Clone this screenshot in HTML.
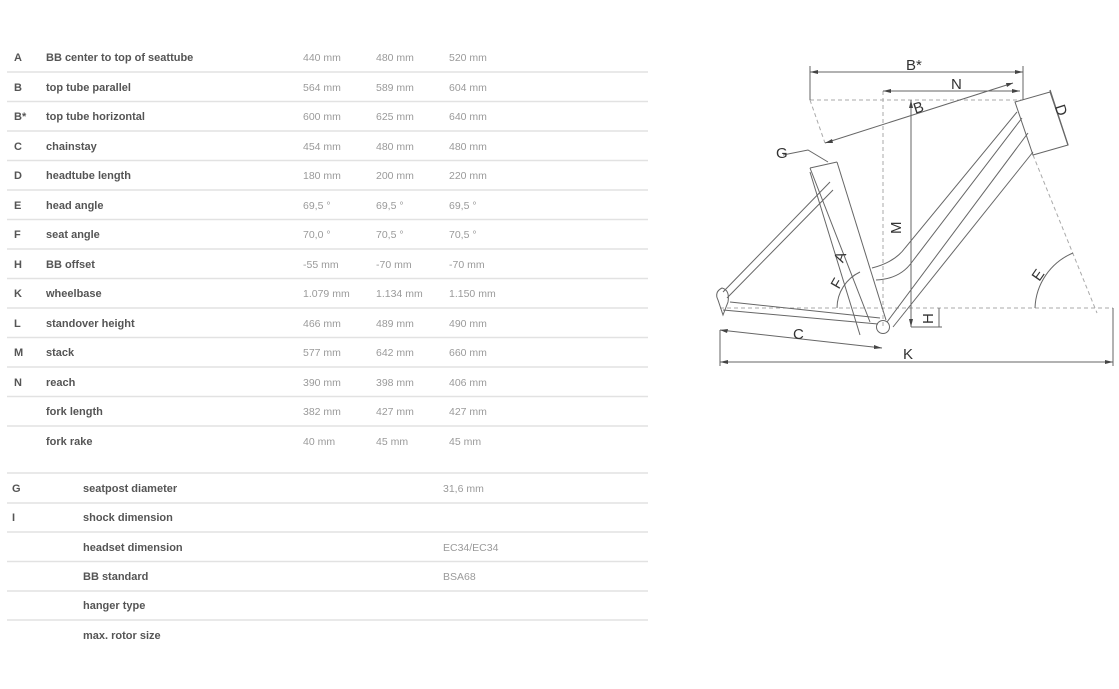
<!DOCTYPE html>
<html><head><meta charset="utf-8"><style>
html,body{margin:0;padding:0;background:#fff;}
body{width:1119px;height:689px;overflow:hidden;position:relative;font-family:"Liberation Sans",sans-serif;}
svg{position:absolute;left:0;top:0;}
.l{font-size:11px;font-weight:bold;fill:#555;}
.v{font-size:10.5px;fill:#9a9a9a;}
.d{font-size:15px;fill:#333;}
</style></head><body>
<svg width="1119" height="689" viewBox="0 0 1119 689">
<g stroke="#e2e2e2" stroke-width="1.5">
<line x1="7" x2="648" y1="72" y2="72"/><line x1="7" x2="648" y1="101.5" y2="101.5"/><line x1="7" x2="648" y1="131" y2="131"/><line x1="7" x2="648" y1="160.5" y2="160.5"/><line x1="7" x2="648" y1="190" y2="190"/><line x1="7" x2="648" y1="219.5" y2="219.5"/><line x1="7" x2="648" y1="249" y2="249"/><line x1="7" x2="648" y1="278.5" y2="278.5"/><line x1="7" x2="648" y1="308" y2="308"/><line x1="7" x2="648" y1="337.5" y2="337.5"/><line x1="7" x2="648" y1="367" y2="367"/><line x1="7" x2="648" y1="396.5" y2="396.5"/><line x1="7" x2="648" y1="426" y2="426"/>
<line x1="7" x2="648" y1="473" y2="473"/><line x1="7" x2="648" y1="503" y2="503"/><line x1="7" x2="648" y1="532" y2="532"/><line x1="7" x2="648" y1="561.5" y2="561.5"/><line x1="7" x2="648" y1="591" y2="591"/><line x1="7" x2="648" y1="620" y2="620"/>
</g>
<g class="l">
<text x="14" y="61">A</text><text x="46" y="61">BB center to top of seattube</text>
<text x="14" y="91">B</text><text x="46" y="91">top tube parallel</text>
<text x="14" y="120">B*</text><text x="46" y="120">top tube horizontal</text>
<text x="14" y="150">C</text><text x="46" y="150">chainstay</text>
<text x="14" y="179">D</text><text x="46" y="179">headtube length</text>
<text x="14" y="209">E</text><text x="46" y="209">head angle</text>
<text x="14" y="238">F</text><text x="46" y="238">seat angle</text>
<text x="14" y="268">H</text><text x="46" y="268">BB offset</text>
<text x="14" y="297">K</text><text x="46" y="297">wheelbase</text>
<text x="14" y="327">L</text><text x="46" y="327">standover height</text>
<text x="14" y="356">M</text><text x="46" y="356">stack</text>
<text x="14" y="386">N</text><text x="46" y="386">reach</text>
<text x="46" y="415">fork length</text>
<text x="46" y="445">fork rake</text>
<text x="12" y="492">G</text><text x="83" y="492">seatpost diameter</text>
<text x="12" y="521">I</text><text x="83" y="521">shock dimension</text>
<text x="83" y="551">headset dimension</text>
<text x="83" y="580">BB standard</text>
<text x="83" y="609">hanger type</text>
<text x="83" y="639">max. rotor size</text>
</g>
<g class="v">
<text x="303" y="61">440 mm</text><text x="376" y="61">480 mm</text><text x="449" y="61">520 mm</text>
<text x="303" y="91">564 mm</text><text x="376" y="91">589 mm</text><text x="449" y="91">604 mm</text>
<text x="303" y="120">600 mm</text><text x="376" y="120">625 mm</text><text x="449" y="120">640 mm</text>
<text x="303" y="150">454 mm</text><text x="376" y="150">480 mm</text><text x="449" y="150">480 mm</text>
<text x="303" y="179">180 mm</text><text x="376" y="179">200 mm</text><text x="449" y="179">220 mm</text>
<text x="303" y="209">69,5 °</text><text x="376" y="209">69,5 °</text><text x="449" y="209">69,5 °</text>
<text x="303" y="238">70,0 °</text><text x="376" y="238">70,5 °</text><text x="449" y="238">70,5 °</text>
<text x="303" y="268">-55 mm</text><text x="376" y="268">-70 mm</text><text x="449" y="268">-70 mm</text>
<text x="303" y="297">1.079 mm</text><text x="376" y="297">1.134 mm</text><text x="449" y="297">1.150 mm</text>
<text x="303" y="327">466 mm</text><text x="376" y="327">489 mm</text><text x="449" y="327">490 mm</text>
<text x="303" y="356">577 mm</text><text x="376" y="356">642 mm</text><text x="449" y="356">660 mm</text>
<text x="303" y="386">390 mm</text><text x="376" y="386">398 mm</text><text x="449" y="386">406 mm</text>
<text x="303" y="415">382 mm</text><text x="376" y="415">427 mm</text><text x="449" y="415">427 mm</text>
<text x="303" y="445">40 mm</text><text x="376" y="445">45 mm</text><text x="449" y="445">45 mm</text>
<text x="443" y="492">31,6 mm</text>
<text x="443" y="551">EC34/EC34</text>
<text x="443" y="580">BSA68</text>
</g>
<!-- diagram -->
<g fill="none" stroke="#aaa" stroke-width="1" stroke-dasharray="4,3">
<line x1="810" y1="100" x2="1023" y2="100"/>
<line x1="810" y1="100" x2="825" y2="143"/>
<line x1="883" y1="91" x2="883" y2="327"/>
<line x1="720" y1="308" x2="1113" y2="308"/>
<line x1="1033" y1="155" x2="1097" y2="313"/>
</g>
<g fill="none" stroke="#666" stroke-width="1">
<line x1="810" y1="72" x2="1023" y2="72"/><line x1="810" y1="66" x2="810" y2="100"/><line x1="1023" y1="66" x2="1023" y2="100"/>
<line x1="883" y1="91" x2="1020" y2="91"/>
<line x1="911" y1="100" x2="911" y2="327"/>
<line x1="825" y1="143" x2="1013" y2="83"/>
<polygon points="1015,102 1050,92 1068,145 1033,155"/>
<line x1="1050" y1="90" x2="1068" y2="145" stroke-width="1.3"/>
<line x1="810" y1="168" x2="837" y2="162"/>
<line x1="810" y1="168" x2="870" y2="322"/>
<line x1="837" y1="162" x2="886" y2="320"/>
<line x1="810" y1="172" x2="860" y2="335"/>
<path d="M1017,112 L905,248 Q895,262 872,268"/>
<path d="M1022,118 L912,262 Q900,279 876,280"/>
<path d="M1028,133 L887,322"/>
<path d="M1033,152 L893,327"/>
<line x1="723" y1="292" x2="830" y2="182"/>
<line x1="727" y1="298" x2="833" y2="190"/>
<line x1="723" y1="310" x2="878" y2="324"/>
<line x1="730" y1="302" x2="880" y2="318"/>
<path d="M718,300 Q714,292 722,288 Q730,290 728,302 L723,315 Z"/>
<circle cx="883" cy="327" r="6.5"/>
<line x1="720" y1="330" x2="882" y2="348"/>
<line x1="720" y1="362" x2="1113" y2="362"/>
<line x1="720" y1="330" x2="720" y2="366"/><line x1="1113" y1="308" x2="1113" y2="366"/>
<line x1="911" y1="327" x2="942" y2="327"/>
<line x1="939" y1="308" x2="939" y2="327"/>
<path d="M1073,253 A62,62 0 0,0 1035,308"/>
<path d="M860,272 A40,40 0 0,0 837,308"/>
<polyline points="783,155 808,150 828,162"/>
</g>
<g fill="#444" stroke="none">
<polygon points="810,72 818,70 818,74"/><polygon points="1023,72 1015,70 1015,74"/>
<polygon points="883,91 891,89 891,93"/><polygon points="1020,91 1012,89 1012,93"/>
<polygon points="911,100 909,108 913,108"/><polygon points="911,327 909,319 913,319"/>
<polygon points="825,143 832,139 833,143"/><polygon points="1013,83 1006,83 1007,87"/>
<polygon points="720,362 728,360 728,364"/><polygon points="1113,362 1105,360 1105,364"/>
<polygon points="720,330 728,329 727,333"/><polygon points="882,348 874,345 874,349"/>
</g>
<g class="d">
<text x="906" y="70">B*</text>
<text x="951" y="89">N</text>
<text x="913" y="112" transform="rotate(-18 920 106)">B</text>
<text x="1055" y="114" transform="rotate(72 1060 110)">D</text>
<text x="776" y="158">G</text>
<text x="895" y="228" transform="rotate(-90 901 228)">M</text>
<text x="835" y="262" transform="rotate(-70 840 257)">A</text>
<text x="832" y="288" transform="rotate(-60 837 283)">F</text>
<text x="1033" y="280" transform="rotate(-55 1038 275)">E</text>
<text x="922" y="323" transform="rotate(-90 928 318)">H</text>
<text x="793" y="339">C</text>
<text x="903" y="359">K</text>
</g>
</svg>
</body></html>
